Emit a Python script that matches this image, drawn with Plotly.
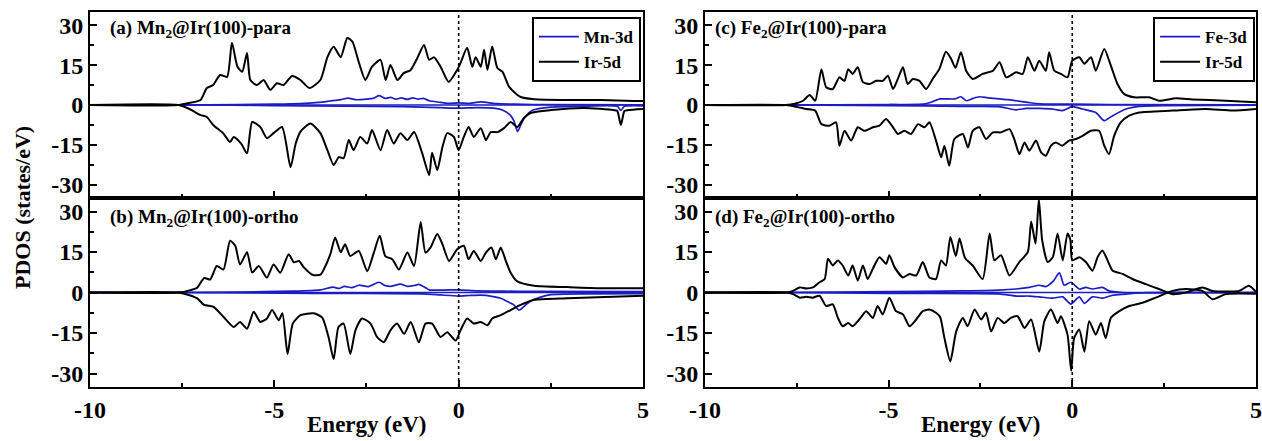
import plotly.graph_objects as go

# ---------------- data (energy eV, PDOS states/eV) ----------------
a_ir_up = [(-10,0),(-7.6,0),(-7.3,0.8),(-7.0,1.9),(-6.83,6.4),(-6.66,7.5),(-6.47,11.3),(-6.28,10.6),(-6.15,23.4),(-6.0,14.4),(-5.87,12.5),(-5.74,19.6),(-5.65,9.4),(-5.47,7.5),(-5.29,9.4),(-5.11,5.7),(-4.93,8.2),(-4.75,7.5),(-4.52,10.9),(-4.29,9.4),(-4.05,6.4),(-3.75,9.4),(-3.56,18),(-3.39,21.9),(-3.2,18),(-3.02,25.2),(-2.88,23.8),(-2.71,16.2),(-2.53,9.4),(-2.35,14.4),(-2.12,17),(-1.98,9.4),(-1.85,15.1),(-1.66,9.4),(-1.49,12),(-1.3,13.2),(-1.12,17.7),(-0.94,22.6),(-0.8,17),(-0.67,18),(-0.49,14.4),(-0.27,8.7),(-0.04,13.2),(0.05,15.8),(0.23,21.5),(0.37,14.4),(0.46,18),(0.6,14.4),(0.69,20.8),(0.78,13.2),(0.91,22),(1.05,13.9),(1.19,12.5),(1.37,6.8),(1.68,3),(2.05,2.2),(2.96,1.9),(3.86,1.9),(4.76,1.5),(5,1.5)]
a_ir_dn = [(-10,0),(-7.6,0),(-7.3,-1.5),(-7.0,-3.8),(-6.83,-4.5),(-6.66,-7.5),(-6.39,-10.6),(-6.2,-13.9),(-6.1,-12),(-5.9,-14.5),(-5.74,-18.2),(-5.6,-6.4),(-5.38,-8.3),(-5.2,-12.5),(-5.02,-10.6),(-4.79,-8.3),(-4.56,-23.4),(-4.42,-14.5),(-4.29,-10),(-4.02,-7),(-3.75,-10.6),(-3.56,-17),(-3.39,-22.6),(-3.25,-19.6),(-3.12,-20),(-2.98,-13.2),(-2.85,-17),(-2.67,-12),(-2.48,-14.5),(-2.35,-9.4),(-2.12,-17),(-1.94,-9.4),(-1.76,-14.5),(-1.58,-10.6),(-1.39,-13.2),(-1.21,-10.2),(-0.99,-18.1),(-0.8,-26.4),(-0.72,-18),(-0.58,-24.5),(-0.44,-15.8),(-0.31,-10.6),(-0.13,-12),(0.0,-17),(0.14,-12),(0.27,-8.3),(0.41,-12),(0.6,-8.7),(0.74,-13.2),(0.87,-10.2),(1.05,-10.2),(1.23,-8.7),(1.41,-6.4),(1.59,-8.3),(1.77,-4.9),(1.95,-3),(2.5,-1.9),(3.4,-1.1),(4.2,-1.9),(4.3,-2.2),(4.4,-7.5),(4.5,-2.2),(4.6,-1.9),(5,-1.5)]
a_m_up = [(-10,0),(-7.5,0),(-6,0.2),(-5,0.3),(-4.3,0.5),(-3.8,1),(-3.5,1.5),(-3.2,2),(-3.0,2.6),(-2.8,2),(-2.5,2.2),(-2.3,2.6),(-2.16,3.5),(-2.0,2.5),(-1.85,2.9),(-1.7,2.2),(-1.55,2.7),(-1.4,2.1),(-1.25,2.7),(-1.1,2.2),(-0.95,2.5),(-0.8,1.6),(-0.5,1),(-0.3,0.6),(0,0.8),(0.3,0.6),(0.6,1.2),(1.0,0.5),(1.5,0.3),(2,0.2),(5,0.1)]
a_m_dn = [(-10,0),(-7.5,0),(-5,-0.2),(-3,-0.4),(-1.5,-0.6),(-1,-0.8),(-0.5,-1),(0,-1.2),(0.5,-1),(1.0,-1.3),(1.2,-2),(1.4,-3.8),(1.5,-6),(1.6,-10),(1.7,-7),(1.8,-4.5),(2.0,-2),(2.5,-0.8),(3.5,-0.4),(4.3,-0.5),(4.4,-2),(4.5,-0.5),(5,-0.3)]

b_ir_up = [(-10,0),(-7.6,0),(-7.3,0.8),(-7.1,1.7),(-6.9,5.4),(-6.74,4.8),(-6.56,9.8),(-6.38,8.5),(-6.2,19.2),(-6.06,17.3),(-5.93,10.4),(-5.74,14.9),(-5.6,7.4),(-5.42,9.8),(-5.2,5.5),(-5.02,10.4),(-4.84,7.3),(-4.61,14.2),(-4.47,11.2),(-4.33,11.7),(-4.2,9.3),(-3.95,6.5),(-3.75,6.6),(-3.66,8.5),(-3.48,14.2),(-3.35,20.4),(-3.2,14.9),(-3.08,17.9),(-2.94,13.5),(-2.71,15.4),(-2.48,7.9),(-2.3,14.8),(-2.14,21),(-1.99,13.5),(-1.8,12.3),(-1.62,8.5),(-1.39,14.8),(-1.21,9.8),(-1.03,26.1),(-0.9,14.8),(-0.76,16.7),(-0.58,21.7),(-0.44,17.9),(-0.26,11.7),(-0.04,16),(0.14,17.3),(0.27,12.3),(0.41,15.4),(0.6,11.7),(0.74,14.8),(0.89,16.7),(1.01,12.3),(1.14,16.7),(1.28,11.7),(1.41,7.3),(1.59,4.1),(2.05,2.5),(2.95,2),(3.86,1.6),(5,1.6)]
b_ir_dn = [(-10,0),(-7.6,0),(-7.3,-1),(-7.1,-2.1),(-6.9,-4.6),(-6.65,-5.3),(-6.38,-9),(-6.1,-12.8),(-5.93,-10.9),(-5.74,-13.4),(-5.56,-7.1),(-5.38,-10.9),(-5.2,-9.6),(-5.06,-6.5),(-4.88,-10.3),(-4.78,-7.7),(-4.64,-22.8),(-4.5,-11.5),(-4.29,-8.4),(-3.93,-7.7),(-3.7,-9.3),(-3.53,-16.5),(-3.39,-24.7),(-3.26,-12.8),(-3.12,-11.5),(-2.94,-22.8),(-2.8,-14),(-2.62,-9.6),(-2.39,-11.5),(-2.21,-16.5),(-2.03,-18.4),(-1.85,-14),(-1.67,-11.5),(-1.48,-15.3),(-1.3,-10.9),(-1.08,-18.4),(-0.9,-11.5),(-0.72,-11.5),(-0.49,-16.5),(-0.31,-14.7),(-0.08,-17.8),(0.05,-14),(0.23,-9.6),(0.41,-11.5),(0.6,-10.9),(0.78,-12.1),(0.91,-9.6),(1.14,-8.4),(1.41,-6.5),(1.68,-4.6),(2.05,-2.7),(2.95,-2.1),(5,-1.2)]
b_m_up = [(-10,0),(-7.5,0),(-6,0.2),(-4.5,0.5),(-3.75,1),(-3.4,2),(-3.25,1.5),(-3.1,2.3),(-2.9,1.8),(-2.7,2.7),(-2.45,2.2),(-2.16,3.8),(-2.0,2.6),(-1.85,2.3),(-1.58,3.1),(-1.39,2.3),(-1.2,2.6),(-1.08,3),(-0.9,1.8),(-0.8,1),(-0.4,0.9),(0,1),(0.5,0.6),(1.2,0.5),(2,0.4),(5,0.3)]
b_m_dn = [(-10,0),(-7.5,0),(-4,-0.3),(-1,-0.5),(-0.5,-0.9),(0,-1.3),(0.3,-1.1),(0.6,-1),(0.9,-1.4),(1.14,-2.1),(1.35,-3.5),(1.5,-4.6),(1.64,-6.5),(1.8,-4.8),(1.95,-3.2),(2.2,-1.8),(2.5,-0.8),(3.5,-0.5),(5,-0.4)]

c_ir_up = [(-10,0),(-7.8,0),(-7.55,0.5),(-7.33,1.6),(-7.15,3.8),(-7.0,1.6),(-6.83,13.5),(-6.7,6.7),(-6.52,6),(-6.34,10.4),(-6.2,9.1),(-6.1,13.5),(-5.98,11.7),(-5.84,14.2),(-5.7,8.6),(-5.52,7.9),(-5.34,9.1),(-5.16,9.1),(-5.02,11),(-4.88,6),(-4.75,9.8),(-4.61,14.2),(-4.48,7.9),(-4.34,9.8),(-4.16,9.1),(-3.98,6),(-3.8,9.8),(-3.62,13.5),(-3.44,20),(-3.3,17.4),(-3.18,14),(-3.03,19.9),(-2.89,12.9),(-2.71,9.8),(-2.44,11.7),(-2.16,12.9),(-1.98,16.1),(-1.8,10.4),(-1.53,12.3),(-1.35,11.7),(-1.21,18),(-1.03,12.9),(-0.9,16.7),(-0.72,12.9),(-0.63,19.9),(-0.49,12.9),(-0.31,11.7),(-0.13,10.4),(0.0,16.7),(0.19,18),(0.33,15.5),(0.51,18),(0.64,12.9),(0.87,21.1),(1.05,14.8),(1.23,7.9),(1.41,4.2),(1.68,2.9),(2.09,2.9),(2.36,1.6),(2.82,2.5),(3.27,2.1),(4.18,1.6),(5,1)]
c_ir_dn = [(-10,0),(-7.8,0),(-7.5,-0.7),(-7.24,-1.5),(-7.0,-2.1),(-6.83,-7.2),(-6.61,-7.8),(-6.43,-6.5),(-6.34,-15.3),(-6.2,-9.7),(-6.02,-13.4),(-5.84,-8.4),(-5.66,-9.7),(-5.43,-8.4),(-5.25,-7.8),(-5.07,-5.3),(-4.88,-8.4),(-4.75,-10.9),(-4.57,-9.7),(-4.39,-10.9),(-4.2,-7.2),(-4.02,-8.4),(-3.89,-6.5),(-3.71,-13.4),(-3.57,-19.7),(-3.48,-15.3),(-3.35,-22.9),(-3.21,-12.8),(-2.98,-10.9),(-2.84,-16),(-2.71,-9.7),(-2.53,-8.4),(-2.35,-12.8),(-2.16,-10.3),(-1.94,-10.3),(-1.71,-9.1),(-1.58,-12.8),(-1.44,-18.5),(-1.3,-14.1),(-1.17,-17.2),(-0.99,-13.4),(-0.85,-17.8),(-0.72,-19.1),(-0.58,-15.3),(-0.45,-14.1),(-0.27,-15.3),(-0.09,-13.4),(0.1,-12.8),(0.28,-11.6),(0.51,-9.7),(0.73,-9.7),(0.87,-15.3),(1.0,-18.5),(1.14,-11.6),(1.32,-6.5),(1.55,-4),(1.82,-2.8),(2.73,-2.1),(3.63,-1.5),(4.36,-2.1),(5,-1.5)]
c_m_up = [(-10,0),(-7.8,0),(-5,0.2),(-4,0.4),(-3.6,2.3),(-3.43,2.3),(-3.2,2.3),(-3.03,3.1),(-2.89,1.6),(-2.7,2.5),(-2.53,3.1),(-2.3,2.7),(-1.98,2.3),(-1.75,2),(-1.53,1.6),(-1.21,1),(-0.9,0.4),(0,0.3),(1,0.2),(5,0.1)]
c_m_dn = [(-10,0),(-7.8,0),(-4,-0.3),(-3,-0.5),(-2,-0.6),(-1.53,-1.8),(-1.26,-1.3),(-0.9,-1.3),(-0.5,-1.6),(-0.27,-2.1),(0,-0.6),(0.28,-1.5),(0.64,-2.8),(0.87,-5.9),(1.1,-4),(1.46,-1.5),(1.82,-0.5),(2.5,-0.2),(5,-0.1)]

d_ir_up = [(-10,0),(-7.8,0),(-7.6,0.6),(-7.42,1.9),(-7.24,1.5),(-7.06,1.9),(-6.88,3.8),(-6.74,5),(-6.65,12.5),(-6.52,10),(-6.38,11.9),(-6.25,10),(-6.1,6.3),(-5.98,10),(-5.84,4.4),(-5.7,10),(-5.57,5),(-5.43,8.8),(-5.25,13.1),(-5.07,10.6),(-4.98,13.8),(-4.84,9.4),(-4.61,5.6),(-4.43,6.9),(-4.25,6.3),(-4.07,11.3),(-3.89,5.6),(-3.71,5),(-3.57,11.9),(-3.44,10),(-3.32,20.6),(-3.17,13.5),(-3.07,20),(-2.92,12.8),(-2.71,10),(-2.44,5),(-2.25,21.9),(-2.12,11.9),(-1.94,13.8),(-1.71,6.3),(-1.44,11.3),(-1.21,15),(-1.12,26.3),(-1.0,18.1),(-0.91,34.5),(-0.82,19.4),(-0.67,11.3),(-0.53,13.1),(-0.4,21.9),(-0.26,11.9),(-0.13,21.9),(-0.05,19.4),(0.0,11.9),(0.19,13.1),(0.37,11.3),(0.55,8.1),(0.69,13.1),(0.82,15.6),(0.96,11.9),(1.1,8.1),(1.37,6.9),(1.64,5),(2.0,3.1),(2.36,1.3),(2.73,-0.6),(3.09,0),(3.54,1.9),(3.82,0.6),(4.54,0.6),(4.81,2.5),(5,0.3)]
d_ir_dn = [(-10,0),(-7.8,0),(-7.6,-0.6),(-7.42,-1.9),(-7.24,-1.6),(-7.06,-1.9),(-6.88,-1.2),(-6.7,-5),(-6.52,-4.4),(-6.38,-9.4),(-6.25,-12.5),(-6.1,-11.3),(-5.98,-12.5),(-5.8,-10),(-5.61,-6.9),(-5.43,-9.4),(-5.3,-5),(-5.16,-8.1),(-4.98,-1.9),(-4.8,-6.9),(-4.61,-8.1),(-4.43,-12.5),(-4.25,-10),(-4.07,-6.9),(-3.89,-6.3),(-3.71,-7.5),(-3.6,-9),(-3.48,-16.9),(-3.32,-25.5),(-3.16,-14.4),(-2.98,-9.4),(-2.85,-12.5),(-2.66,-6.3),(-2.48,-10),(-2.35,-7.5),(-2.21,-14.4),(-2.03,-9.4),(-1.85,-11.3),(-1.67,-9.4),(-1.49,-8.8),(-1.3,-13.1),(-1.12,-10),(-0.9,-21.9),(-0.76,-10.6),(-0.58,-6.3),(-0.4,-11.3),(-0.31,-8.8),(-0.13,-15.6),(-0.03,-29),(0.05,-16.9),(0.19,-13.7),(0.33,-21.9),(0.46,-10.6),(0.64,-15.6),(0.78,-11.3),(0.91,-16.9),(1.05,-9.4),(1.28,-6.9),(1.55,-5),(1.91,-3.8),(2.27,-1.9),(2.73,0.6),(3.09,1.3),(3.54,0.6),(3.82,-2.5),(4.18,-0.6),(5,-0.5)]
d_m_up = [(-10,0),(-7.8,0),(-5,0.3),(-3,0.6),(-2,0.9),(-1.53,1.3),(-1.17,1.9),(-0.9,2.7),(-0.72,2.2),(-0.53,4),(-0.35,7.3),(-0.22,2.7),(-0.04,3.8),(0.19,1.3),(0.37,1.9),(0.55,1.3),(0.82,1.9),(1.0,0.6),(1.37,0),(5,0)]
d_m_dn = [(-10,0),(-7.8,0),(-5,-0.3),(-2,-0.5),(-1.53,-1.3),(-1.17,-1.3),(-0.9,-1.6),(-0.53,-2.1),(-0.26,-1.6),(-0.04,-4.3),(0.19,-1.6),(0.33,-4),(0.55,-1.6),(0.82,-2.1),(1.1,-1),(1.46,-0.6),(2,0),(5,0)]

panel_labels = ["(a) Mn<sub>2</sub>@Ir(100)-para", "(b) Mn<sub>2</sub>@Ir(100)-ortho",
                "(c) Fe<sub>2</sub>@Ir(100)-para", "(d) Fe<sub>2</sub>@Ir(100)-ortho"]
metal_names = ["Mn-3d", "Mn-3d", "Fe-3d", "Fe-3d"]
ir_name = "Ir-5d"
x_ticks = [-10, -5, 0, 5]
x_ticktext = ["-10", "-5", "0", "5"]
y_ticks = [-30, -15, 0, 15, 30]
y_ticktext = ["-30", "-15", "0", "15", "30"]

# ---------------- figure ----------------
FONT = "Liberation Serif"
BLUE = "#1c1cc4"
fig = go.Figure()

panels = [
    (a_m_up, a_m_dn, a_ir_up, a_ir_dn),
    (b_m_up, b_m_dn, b_ir_up, b_ir_dn),
    (c_m_up, c_m_dn, c_ir_up, c_ir_dn),
    (d_m_up, d_m_dn, d_ir_up, d_ir_dn),
]

def xy(pairs):
    return [p[0] for p in pairs], [p[1] for p in pairs]

for i, (mu, md, iu, idn) in enumerate(panels):
    ax = "" if i == 0 else str(i + 1)
    leg = "legend" if i < 2 else "legend2"
    show = i in (0, 2)
    for k, (ser, color, name, w) in enumerate([
            (mu, BLUE, metal_names[i], 1.7), (md, BLUE, metal_names[i], 1.7),
            (iu, "black", ir_name, 2.0), (idn, "black", ir_name, 2.0)]):
        x, y = xy(ser)
        fig.add_trace(go.Scatter(
            x=x, y=y, mode="lines", name=name,
            line=dict(color=color, width=w, shape="spline", smoothing=0.6),
            xaxis="x" + ax, yaxis="y" + ax, legend=leg,
            legendgroup=f"{leg}-{name}",
            showlegend=show and k in (0, 2)))

xL = [0.0713, 0.5095]
xR = [0.5586, 0.9952]
yT = [0.551, 0.9728]
yB = [0.1224, 0.551]
doms = [(xL, yT), (xL, yB), (xR, yT), (xR, yB)]

axis_common = dict(showline=True, mirror=True, linecolor="black", linewidth=2,
                   ticks="inside", ticklen=7, tickwidth=2, tickcolor="black",
                   showgrid=False, zeroline=False, automargin=False,
                   tickfont=dict(family=FONT, size=24, color="black", weight="bold"))

layout = dict(width=1262, height=441, margin=dict(l=0, r=0, t=0, b=0, autoexpand=False),
              paper_bgcolor="white", plot_bgcolor="white",
              font=dict(family=FONT, color="black", weight="bold"))

for i, (xd, yd) in enumerate(doms):
    ax = "" if i == 0 else str(i + 1)
    layout["xaxis" + ax] = dict(axis_common, domain=xd, range=[-10, 5],
                                tickvals=x_ticks, ticktext=x_ticktext,
                                showticklabels=(i in (1, 3)),
                                anchor="y" + ax,
                                minor=dict(ticks="inside", ticklen=4, tickwidth=2,
                                           tickcolor="black", dtick=2.5, tick0=0))
    layout["yaxis" + ax] = dict(axis_common, domain=yd, range=[-35, 35],
                                tickvals=y_ticks, ticktext=y_ticktext, anchor="x" + ax,
                                minor=dict(ticks="inside", ticklen=4, tickwidth=2,
                                           tickcolor="black", dtick=7.5, tick0=0))

legend_style = dict(bordercolor="black", borderwidth=2, bgcolor="white",
                    font=dict(family=FONT, size=17, color="black", weight="bold"),
                    xanchor="right", yanchor="top", tracegroupgap=0,
                    itemwidth=40)
layout["legend"] = dict(legend_style, x=0.5078, y=0.9615)
layout["legend2"] = dict(legend_style, x=0.9945, y=0.9615)

shapes = []
anns = []
label_pos = [(0.0856, 0.934), (0.0856, 0.5057), (0.565, 0.934), (0.565, 0.5057)]
for i in range(4):
    ax = "" if i == 0 else str(i + 1)
    shapes.append(dict(type="line", xref="x" + ax, yref="y" + ax + " domain",
                       x0=0, x1=0, y0=0, y1=1, layer="above",
                       line=dict(color="black", width=1.6, dash="dot")))
    shapes.append(dict(type="line", xref="x" + ax + " domain", yref="y" + ax,
                       x0=0, x1=1, y0=0, y1=0, layer="below",
                       line=dict(color=BLUE, width=1.5)))
    anns.append(dict(text=panel_labels[i], xref="paper", yref="paper",
                     x=label_pos[i][0], y=label_pos[i][1], xanchor="left", yanchor="middle",
                     showarrow=False,
                     font=dict(family=FONT, size=19, color="black", weight="bold")))

anns.append(dict(text="PDOS (states/eV)", xref="paper", yref="paper", x=0.018, y=0.53,
                 textangle=-90, showarrow=False, xanchor="center", yanchor="middle",
                 font=dict(family=FONT, size=22, color="black", weight="bold")))
for xc in (sum(xL) / 2, sum(xR) / 2):
    anns.append(dict(text="Energy (eV)", xref="paper", yref="paper", x=xc, y=0.037,
                     showarrow=False, xanchor="center", yanchor="middle",
                     font=dict(family=FONT, size=23, color="black", weight="bold")))

layout["shapes"] = shapes
layout["annotations"] = anns
fig.update_layout(**layout)
fig.write_html("out.html")
